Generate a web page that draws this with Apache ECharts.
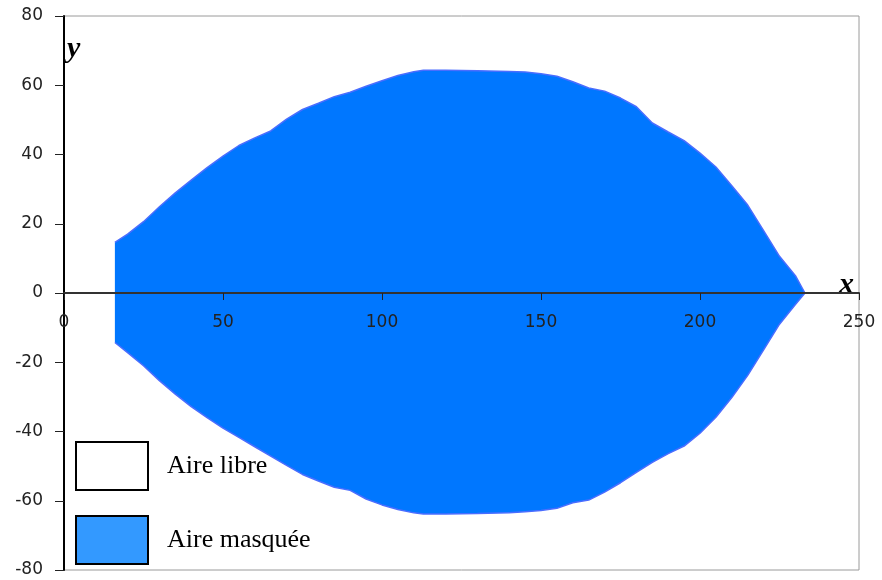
<!DOCTYPE html>
<html>
<head>
<meta charset="utf-8">
<script src="https://cdn.jsdelivr.net/npm/echarts@6/dist/echarts.min.js"></script>
<style>html,body{margin:0;padding:0;background:#fff}#c{width:882px;height:580px}</style>
</head>
<body>
<div id="c"></div>
<script>
// Profile abscissas (x) and the upper / lower bounds of the masked area (y)
const xs    = [16, 20, 25, 30, 35, 40, 45, 50, 55, 60, 65, 70, 75, 80, 85, 90, 95, 100, 105, 110, 113, 120, 130, 140, 145, 150, 155, 160, 165, 170, 175, 180, 185, 190, 195, 200, 205, 210, 215, 220, 225, 230, 233];
const upper = [14.6, 17.0, 20.6, 24.9, 28.9, 32.6, 36.2, 39.5, 42.6, 44.8, 46.8, 50.2, 53.0, 54.8, 56.7, 58.0, 59.7, 61.3, 62.8, 63.9, 64.3, 64.3, 64.2, 64.0, 63.8, 63.3, 62.6, 61.0, 59.2, 58.3, 56.3, 53.8, 49.1, 46.5, 44.0, 40.4, 36.4, 31.0, 25.4, 18.0, 10.6, 5.0, 0];
const lower = [-14.3, -17.2, -21.0, -25.3, -29.2, -32.8, -36.0, -39.0, -41.7, -44.4, -47.1, -49.8, -52.4, -54.3, -56.1, -57.0, -59.5, -61.2, -62.5, -63.5, -63.8, -63.8, -63.7, -63.5, -63.2, -62.8, -62.2, -60.6, -59.8, -57.5, -54.8, -51.8, -48.9, -46.4, -44.2, -40.5, -35.9, -30.2, -23.8, -16.4, -9.0, -3.3, 0];
const legendNames = ['Aire libre', 'Aire masquée'];
const xTicks = {min: 0, max: 250, interval: 50};
const yTicks = {min: -80, max: 80, interval: 20};

const upperData = xs.map((x, i) => [x, upper[i]]);
const lowerData = xs.map((x, i) => [x, lower[i]]);

const fillColor = '#0077FF';
const edgeColor = '#4a6dff';
const labelFont = {fontFamily: 'DejaVu Sans', fontSize: 17, color: '#222'};

const W = 882, H = 580;
const gridTop = 16, gridBottom = 10;
const plotH = H - gridTop - gridBottom;

const chart = echarts.init(document.getElementById('c'), null, {renderer: 'canvas'});
chart.setOption({
  animation: false,
  backgroundColor: '#fff',
  grid: {left: 64, right: 23, top: gridTop, bottom: gridBottom, outerBoundsMode: 'none', containLabel: false,
         show: true, borderColor: '#9a9a9a', borderWidth: 1, backgroundColor: 'transparent'},
  xAxis: {
    type: 'value', min: xTicks.min, max: xTicks.max, interval: xTicks.interval, z: 5,
    position: 'bottom', offset: -plotH / 2,
    axisLine: {onZero: false, lineStyle: {color: '#333', width: 2}},
    axisTick: {show: true, length: 7, lineStyle: {color: '#222', width: 1}},
    axisLabel: Object.assign({margin: 21}, labelFont),
    splitLine: {show: false}
  },
  yAxis: {
    type: 'value', min: yTicks.min, max: yTicks.max, interval: yTicks.interval, z: 5,
    axisLine: {onZero: false, lineStyle: {color: '#000', width: 2}},
    axisTick: {show: true, length: 9, lineStyle: {color: '#222', width: 1}},
    axisLabel: Object.assign({margin: 21}, labelFont),
    splitLine: {show: false}
  },
  legend: {
    orient: 'vertical', left: 75, top: 441, padding: 0,
    itemWidth: 72, itemHeight: 48, itemGap: 24, selectedMode: false, icon: 'rect',
    textStyle: {fontFamily: 'Liberation Serif', fontSize: 26, color: '#000', padding: [0, 0, 0, 14]},
    data: [
      {name: legendNames[0], itemStyle: {color: '#ffffff', borderColor: '#000', borderWidth: 2}},
      {name: legendNames[1], itemStyle: {color: '#3399FF', borderColor: '#000', borderWidth: 2}}
    ]
  },
  graphic: [
    {type: 'text', left: 67, top: 34, style: {text: 'y', font: 'italic bold 30px "Liberation Serif"', fill: '#000'}},
    {type: 'text', left: 839, top: 270, style: {text: 'x', font: 'italic bold 30px "Liberation Serif"', fill: '#000'}}
  ],
  series: [
    {name: legendNames[0], type: 'line', data: [], itemStyle: {color: '#fff'}},
    {name: legendNames[1], type: 'line', data: upperData, showSymbol: false, smooth: false,
     itemStyle: {color: fillColor}, lineStyle: {color: edgeColor, width: 1.5},
     areaStyle: {color: fillColor, opacity: 1, origin: 0}},
    {name: legendNames[1], type: 'line', data: lowerData, showSymbol: false, smooth: false,
     itemStyle: {color: fillColor}, lineStyle: {color: edgeColor, width: 1.5},
     areaStyle: {color: fillColor, opacity: 1, origin: 0}}
  ]
});
</script>
</body>
</html>
